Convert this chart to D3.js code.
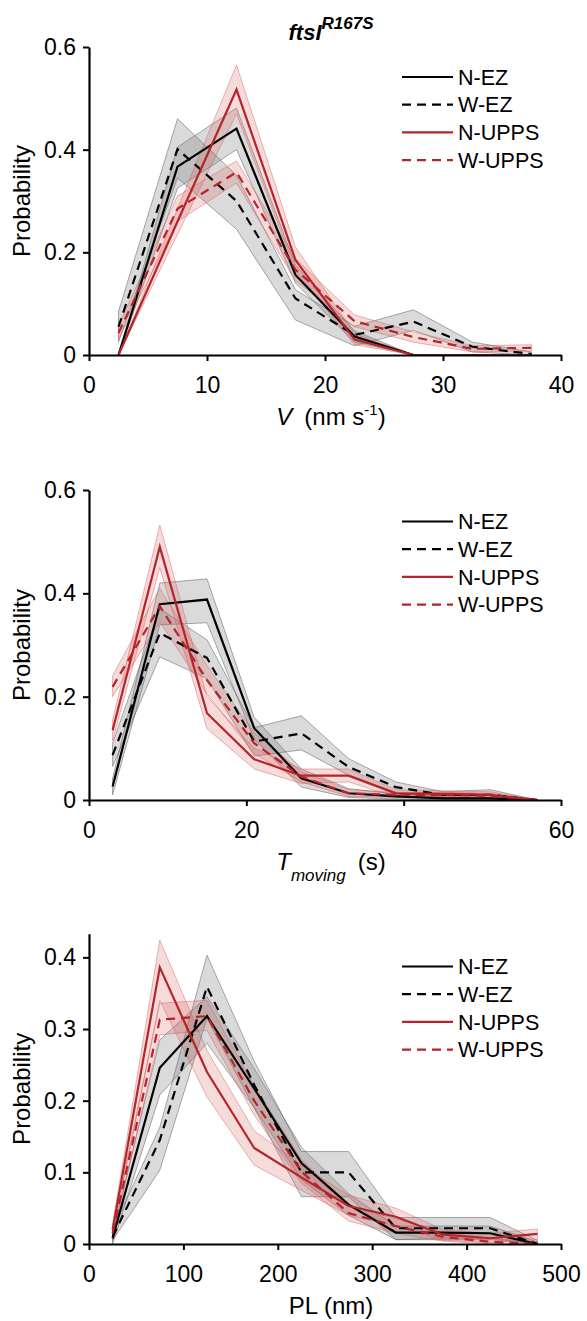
<!DOCTYPE html>
<html>
<head>
<meta charset="utf-8">
<script src="https://cdn.jsdelivr.net/npm/d3@7"></script>
<style>
  body { margin: 0; background: #fff; }
  svg { display: block; }
  text { font-family: "Liberation Sans", Arial, sans-serif; fill: #000; }
</style>
</head>
<body>
<div id="chart"></div>
<script>
'use strict';

var seriesNames = ['N-EZ', 'W-EZ', 'N-UPPS', 'W-UPPS'];

// panel 1: speed V (nm/s)
var vBins = [2.5, 7.5, 12.5, 17.5, 22.5, 27.5, 32.5, 37.5];
var vNEZ    = [0, 0.367, 0.441, 0.156, 0.036, 0, 0, 0];
var vNEZLo  = [0, 0.325, 0.400, 0.140, 0.025, 0, 0, 0];
var vNEZHi  = [0, 0.405, 0.481, 0.175, 0.047, 0, 0, 0];
var vWEZ    = [0.055, 0.401, 0.300, 0.110, 0.039, 0.065, 0.016, 0.002];
var vWEZLo  = [0.025, 0.345, 0.245, 0.068, 0.018, 0.048, 0.006, 0];
var vWEZHi  = [0.085, 0.460, 0.350, 0.127, 0.056, 0.088, 0.025, 0.006];
var vNUP    = [0, 0.260, 0.517, 0.185, 0.030, 0, 0, 0];
var vNUPLo  = [0, 0.235, 0.470, 0.165, 0.020, 0, 0, 0];
var vNUPHi  = [0, 0.285, 0.565, 0.210, 0.042, 0, 0, 0];
var vWUP    = [0.043, 0.285, 0.356, 0.166, 0.066, 0.035, 0.012, 0.014];
var vWUPLo  = [0.030, 0.260, 0.335, 0.145, 0.055, 0.025, 0.006, 0.008];
var vWUPHi  = [0.057, 0.310, 0.378, 0.188, 0.078, 0.045, 0.018, 0.020];

// panel 2: moving time (s)
var tBins = [3, 9, 15, 21, 27, 33, 39, 45, 51, 57];
var tNEZ    = [0.026, 0.379, 0.388, 0.139, 0.042, 0.013, 0.007, 0.003, 0.003, 0];
var tNEZLo  = [0.010, 0.339, 0.343, 0.118, 0.025, 0.005, 0.002, 0, 0, 0];
var tNEZHi  = [0.042, 0.420, 0.428, 0.160, 0.060, 0.022, 0.012, 0.006, 0.006, 0];
var tWEZ    = [0.087, 0.323, 0.275, 0.113, 0.129, 0.064, 0.025, 0.010, 0.010, 0];
var tWEZLo  = [0.065, 0.277, 0.235, 0.085, 0.097, 0.048, 0.015, 0.004, 0.002, 0];
var tWEZHi  = [0.110, 0.370, 0.310, 0.140, 0.163, 0.080, 0.035, 0.016, 0.020, 0];
var tNUP    = [0.135, 0.490, 0.168, 0.079, 0.047, 0.047, 0.013, 0.012, 0.010, 0];
var tNUPLo  = [0.115, 0.450, 0.138, 0.060, 0.032, 0.035, 0.006, 0.006, 0.004, 0];
var tNUPHi  = [0.155, 0.532, 0.200, 0.100, 0.060, 0.060, 0.020, 0.018, 0.016, 0];
var tWUP    = [0.219, 0.375, 0.232, 0.110, 0.045, 0.013, 0.010, 0.010, 0.008, 0];
var tWUPLo  = [0.200, 0.345, 0.205, 0.090, 0.035, 0.007, 0.005, 0.005, 0.003, 0];
var tWUPHi  = [0.240, 0.410, 0.260, 0.130, 0.055, 0.020, 0.015, 0.015, 0.013, 0];

// panel 3: processive length (nm)
var pBins = [25, 75, 125, 175, 225, 275, 325, 375, 425, 475];
var pNEZ    = [0.008, 0.246, 0.318, 0.217, 0.113, 0.055, 0.016, 0.016, 0.015, 0];
var pNEZLo  = [0, 0.208, 0.280, 0.190, 0.090, 0.040, 0.006, 0.006, 0.006, 0];
var pNEZHi  = [0.015, 0.285, 0.345, 0.245, 0.135, 0.070, 0.025, 0.025, 0.025, 0.003];
var pWEZ    = [0.010, 0.145, 0.359, 0.222, 0.100, 0.100, 0.022, 0.022, 0.022, 0];
var pWEZLo  = [0.005, 0.103, 0.315, 0.190, 0.066, 0.066, 0.006, 0.008, 0.008, 0];
var pWEZHi  = [0.020, 0.163, 0.403, 0.255, 0.129, 0.129, 0.037, 0.037, 0.037, 0.005];
var pNUP    = [0.020, 0.386, 0.240, 0.134, 0.093, 0.053, 0.038, 0.013, 0.008, 0.014];
var pNUPLo  = [0.012, 0.340, 0.205, 0.110, 0.075, 0.040, 0.025, 0.005, 0.002, 0.006];
var pNUPHi  = [0.028, 0.424, 0.270, 0.158, 0.110, 0.068, 0.050, 0.020, 0.015, 0.021];
var pWUP    = [0.015, 0.313, 0.318, 0.200, 0.101, 0.043, 0.025, 0.010, 0.003, 0];
var pWUPLo  = [0.008, 0.292, 0.298, 0.180, 0.085, 0.032, 0.015, 0.004, 0, 0];
var pWUPHi  = [0.022, 0.336, 0.340, 0.220, 0.118, 0.055, 0.035, 0.016, 0.008, 0.003];

var vTicks = [0, 10, 20, 30, 40];
var tTicks = [0, 20, 40, 60];
var pTicks = [0, 100, 200, 300, 400, 500];
var probTicks6 = [0, 0.2, 0.4, 0.6];
var probTicks4 = [0, 0.1, 0.2, 0.3, 0.4];

var RED = '#b5242a';
var styles = [
  { color: '#000', dash: null, fill: 'rgba(120,120,120,0.27)', edge: 'rgba(90,90,90,0.5)' },
  { color: '#000', dash: '9,6', fill: 'rgba(120,120,120,0.27)', edge: 'rgba(90,90,90,0.5)' },
  { color: RED, dash: null, fill: 'rgba(215,90,90,0.22)', edge: 'rgba(215,90,90,0.45)' },
  { color: RED, dash: '9,6', fill: 'rgba(215,90,90,0.22)', edge: 'rgba(215,90,90,0.45)' }
];

function pack(bins, m, lo, hi) {
  return bins.map(function(b, i){ return { x: b, m: m[i], lo: lo[i], hi: hi[i] }; });
}

var panels = [
  {
    top: 47, bottom: 355, xMax: 40, yMax: 0.6, xTicks: vTicks, yTicks: probTicks6, legendTop: 77,
    series: [pack(vBins, vNEZ, vNEZLo, vNEZHi), pack(vBins, vWEZ, vWEZLo, vWEZHi),
             pack(vBins, vNUP, vNUPLo, vNUPHi), pack(vBins, vWUP, vWUPLo, vWUPHi)],
    xlabel: function(t){
      t.append('tspan').style('font-style', 'italic').text('V');
      t.append('tspan').attr('dx', 12).text('(nm s');
      t.append('tspan').attr('dy', -10).style('font-size', '15px').text('-1');
      t.append('tspan').attr('dy', 10).text(')');
    }
  },
  {
    top: 490, bottom: 800, xMax: 60, yMax: 0.6, xTicks: tTicks, yTicks: probTicks6, legendTop: 521.5,
    series: [pack(tBins, tNEZ, tNEZLo, tNEZHi), pack(tBins, tWEZ, tWEZLo, tWEZHi),
             pack(tBins, tNUP, tNUPLo, tNUPHi), pack(tBins, tWUP, tWUPLo, tWUPHi)],
    xlabel: function(t){
      t.append('tspan').style('font-style', 'italic').text('T');
      t.append('tspan').attr('dy', 11).style('font-style', 'italic').style('font-size', '17px').text('moving');
      t.append('tspan').attr('dy', -11).attr('dx', 12).text('(s)');
    }
  },
  {
    top: 933.7, bottom: 1244, xMax: 500, yMax: 0.433, xTicks: pTicks, yTicks: probTicks4, legendTop: 966.5,
    series: [pack(pBins, pNEZ, pNEZLo, pNEZHi), pack(pBins, pWEZ, pWEZLo, pWEZHi),
             pack(pBins, pNUP, pNUPLo, pNUPHi), pack(pBins, pWUP, pWUPLo, pWUPHi)],
    xlabel: function(t){
      t.text('PL (nm)');
    }
  }
];

var width = 587, height = 1321;
var left = 89, right = 561;

var svg = d3.select('#chart').append('svg')
    .attr('width', width)
    .attr('height', height);

// title
var title = svg.append('text')
    .attr('x', 331)
    .attr('y', 40)
    .attr('text-anchor', 'middle')
    .style('font-size', '22px')
    .style('font-weight', 'bold')
    .style('font-style', 'italic');
title.append('tspan').text('ftsI');
title.append('tspan').attr('dy', -11).style('font-size', '17px').text('R167S');

function fmt(d) {
  return d === 0 ? '0' : d3.format('.1f')(d);
}

panels.forEach(function(p){
  var x = d3.scaleLinear().domain([0, p.xMax]).range([left, right]);
  var y = d3.scaleLinear().domain([0, p.yMax]).range([p.bottom, p.top]);
  var g = svg.append('g');

  var area = d3.area()
      .x(function(d){ return x(d.x); })
      .y0(function(d){ return y(d.lo); })
      .y1(function(d){ return y(d.hi); });
  var line = d3.line()
      .x(function(d){ return x(d.x); })
      .y(function(d){ return y(d.m); });

  // shaded error bands first, then the mean lines on top
  p.series.forEach(function(s, i){
    g.append('path')
      .attr('d', area(s))
      .attr('fill', styles[i].fill)
      .attr('stroke', styles[i].edge)
      .attr('stroke-width', 1);
  });
  p.series.forEach(function(s, i){
    g.append('path')
      .attr('d', line(s))
      .attr('fill', 'none')
      .attr('stroke', styles[i].color)
      .attr('stroke-width', 2.2)
      .attr('stroke-dasharray', styles[i].dash);
  });

  var xAxis = g.append('g')
      .attr('transform', 'translate(0,' + p.bottom + ')')
      .call(d3.axisBottom(x).tickValues(p.xTicks).tickSize(6).tickSizeOuter(0).tickPadding(16).tickFormat(d3.format('d')));
  var yAxis = g.append('g')
      .attr('transform', 'translate(' + left + ',0)')
      .call(d3.axisLeft(y).tickValues(p.yTicks).tickSize(6).tickSizeOuter(0).tickPadding(7).tickFormat(fmt));

  [xAxis, yAxis].forEach(function(a){
    a.select('.domain').attr('stroke-width', 2.2);
    a.selectAll('.tick line').attr('stroke-width', 2);
    a.selectAll('.tick text')
      .style('font-size', '23px')
      .style('font-family', '"Liberation Sans", Arial, sans-serif');
  });

  // y label
  g.append('text')
    .attr('transform', 'translate(22,' + ((p.top + p.bottom) / 2) + ') rotate(-90)')
    .attr('text-anchor', 'middle')
    .attr('dy', '0.35em')
    .style('font-size', '24px')
    .text('Probability');

  // x label
  var xl = g.append('text')
    .attr('x', 331)
    .attr('y', p.bottom + 70)
    .attr('text-anchor', 'middle')
    .style('font-size', '24px');
  p.xlabel(xl);

  // legend
  var leg = g.append('g');
  seriesNames.forEach(function(name, i){
    var ly = p.legendTop + i * 27.7;
    leg.append('line')
      .attr('x1', 402).attr('x2', 453)
      .attr('y1', ly).attr('y2', ly)
      .attr('stroke', styles[i].color)
      .attr('stroke-width', 2.2)
      .attr('stroke-dasharray', styles[i].dash);
    leg.append('text')
      .attr('x', 458)
      .attr('y', ly)
      .attr('dy', '0.36em')
      .style('font-size', '21.5px')
      .text(name);
  });
});
</script>
</body>
</html>
